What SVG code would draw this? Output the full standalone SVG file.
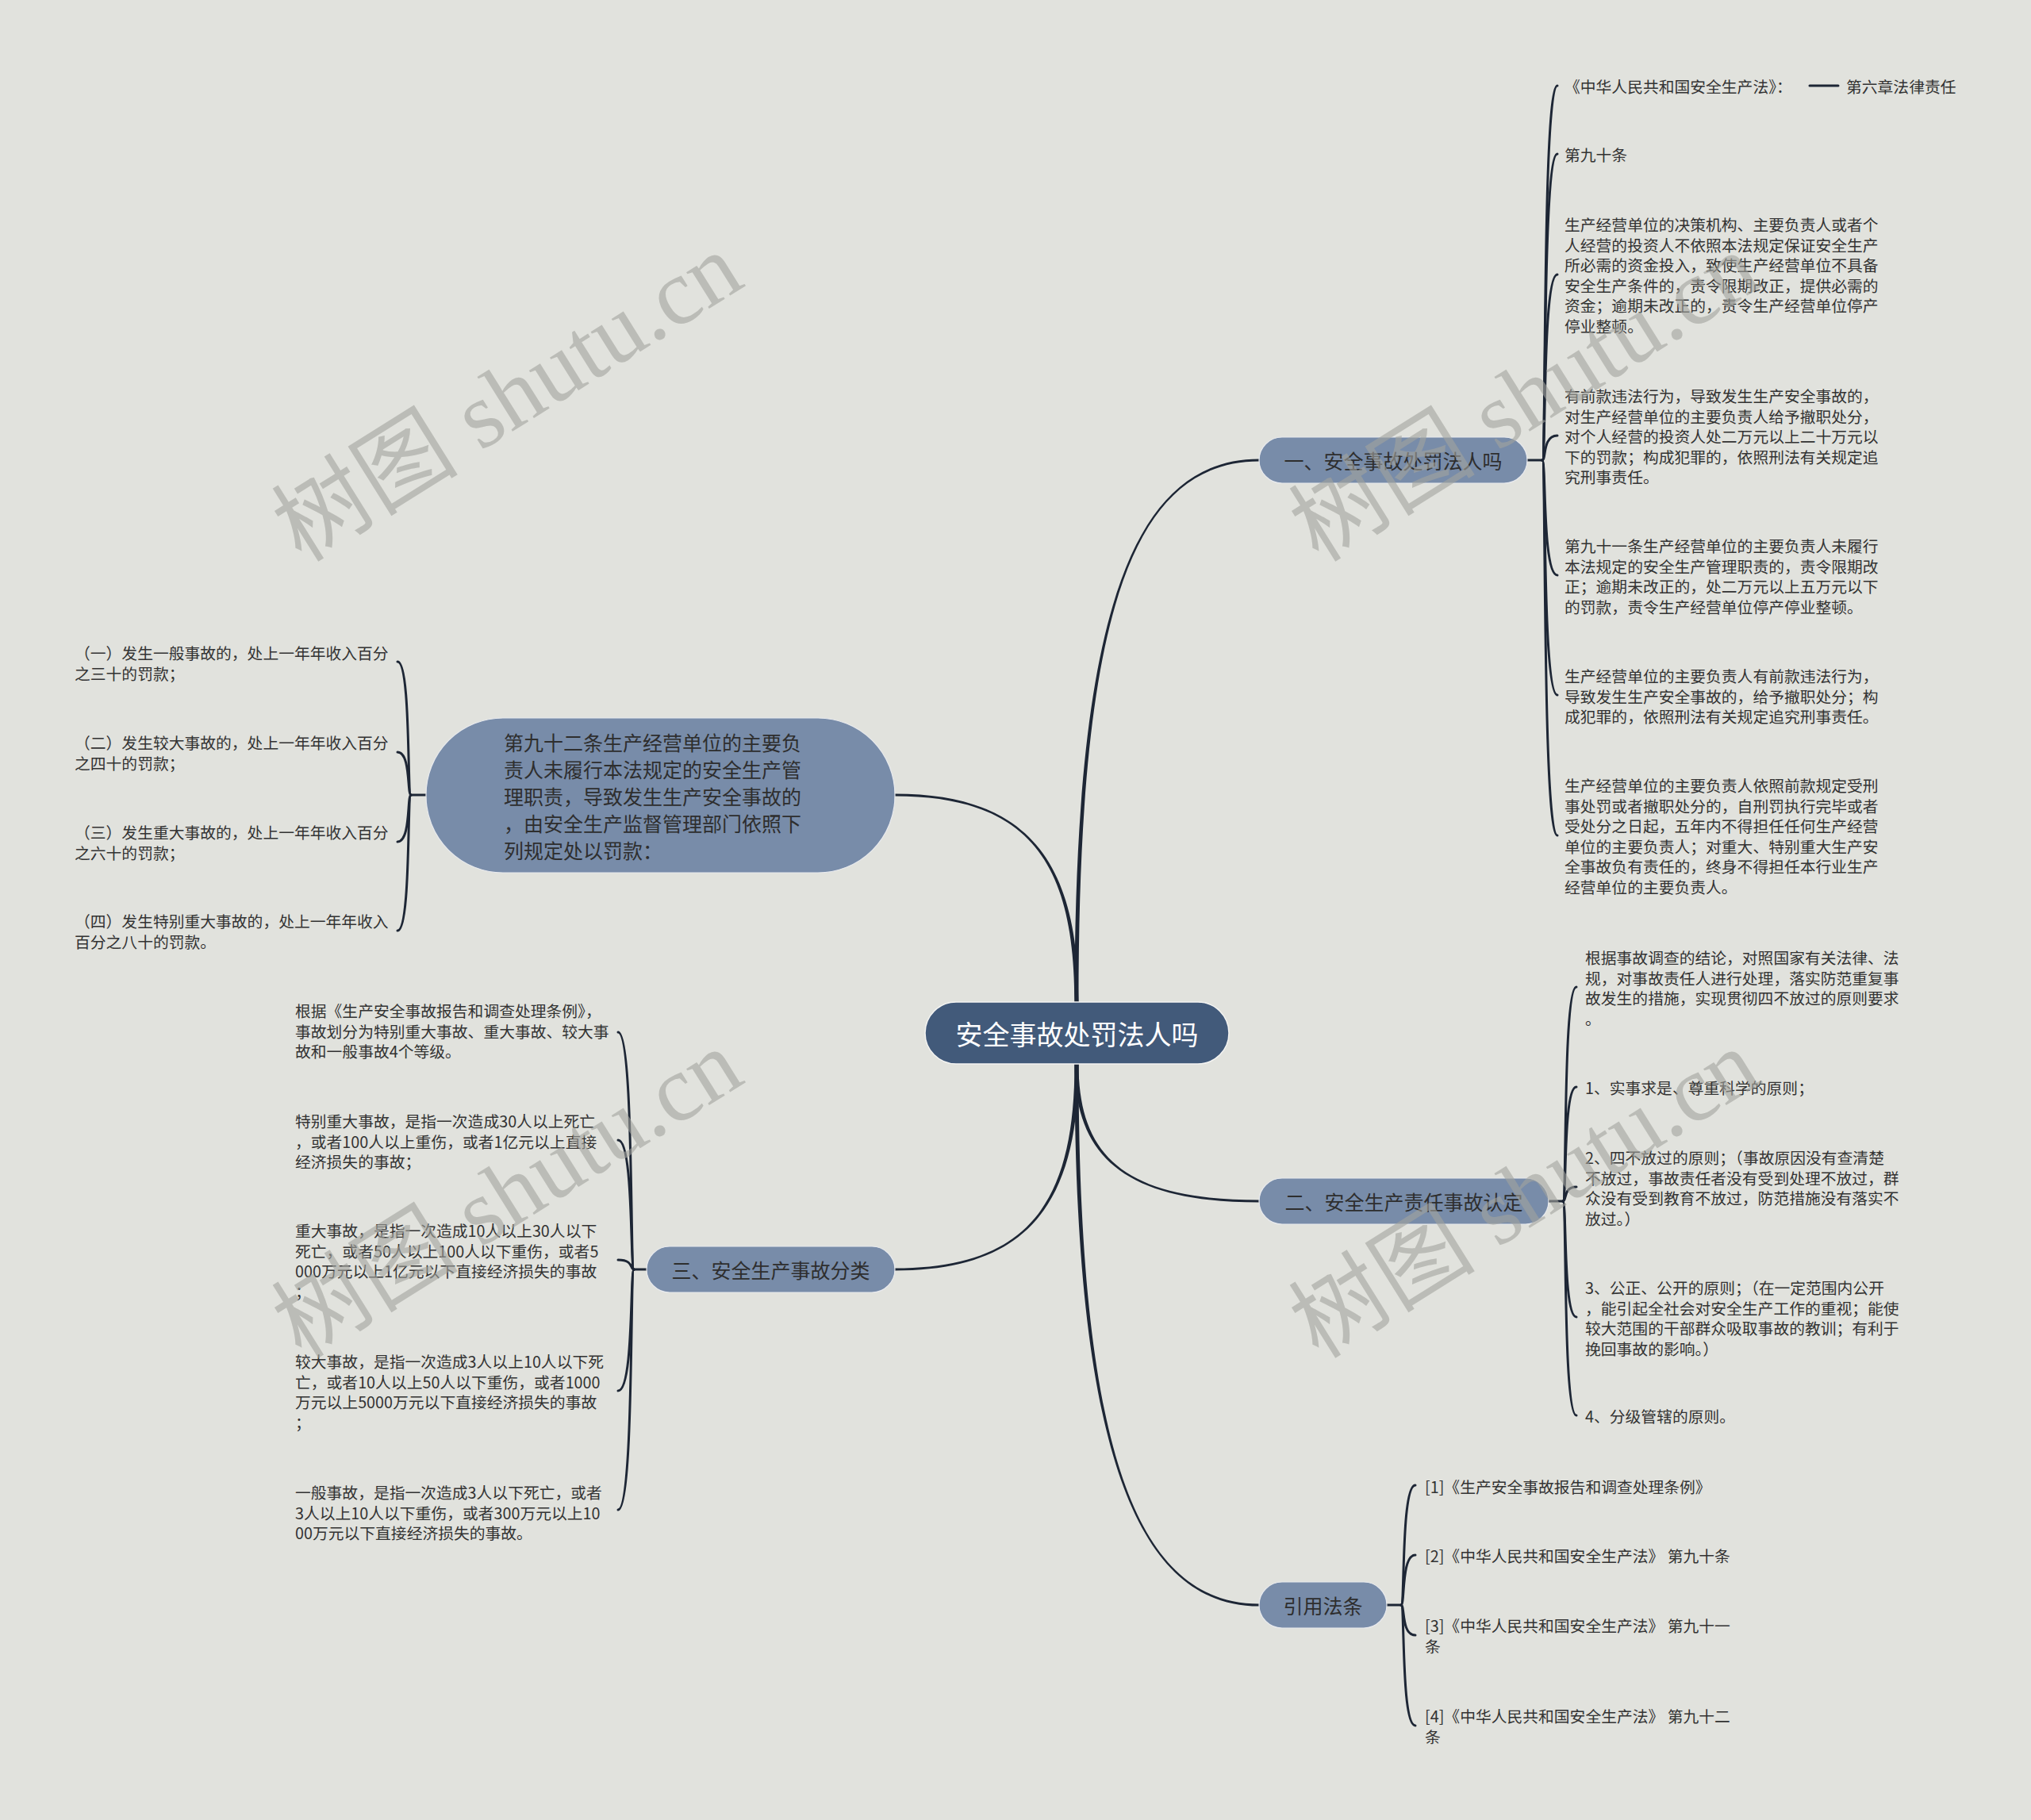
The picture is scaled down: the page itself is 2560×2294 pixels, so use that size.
<svg xmlns="http://www.w3.org/2000/svg" width="2560" height="2294" viewBox="0 0 2560 2294">
<style>
.bg{fill:#e1e2dd}
.root{fill:#425a7a;stroke:#f4f4f2;stroke-width:1.5}
.br{fill:#788ca9;stroke:#e8eaee;stroke-width:1.2}
.rt{font-family:"Noto Sans CJK SC","Noto Sans",sans-serif;font-size:34px;fill:#ffffff;text-anchor:middle;dominant-baseline:central}
.bt{font-family:"Noto Sans CJK SC","Noto Sans",sans-serif;font-size:25px;fill:#2e2e2e;text-anchor:middle;dominant-baseline:central}
.nt{font-family:"Noto Sans CJK SC","Noto Sans",sans-serif;font-size:25px;fill:#2e2e2e;dominant-baseline:central}
.t{font-family:"Noto Sans CJK SC","Noto Sans",sans-serif;font-size:19.8px;fill:#333333;dominant-baseline:central}
.ln{fill:none;stroke:#1d2635;stroke-width:3;stroke-linecap:round}
.tp{fill:#1d2635}
.wm{font-family:"Liberation Serif","Noto Sans CJK SC",serif;font-size:118px;fill:#a3a49e;opacity:0.6}
</style>
<rect class="bg" x="0" y="0" width="2560" height="2294"/>

<g id="connectors">
  <path class="tp" d="M1359.5,1263 C1359.5,799 1419,581.5 1587,581.5 L1587,578.5 C1419,578.5 1354.5,799 1354.5,1263 Z"/>
  <path class="tp" d="M1359.5,1263 C1359.5,1085.5 1295.2,1000.5 1128,1000.5 L1128,1003.5 C1295.2,1003.5 1354.5,1085.5 1354.5,1263 Z"/>
  <path class="tp" d="M1354.5,1341 C1354.5,1458.6 1419,1515.5 1587,1515.5 L1587,1512.5 C1419,1512.5 1359.5,1458.6 1359.5,1341 Z"/>
  <path class="tp" d="M1354.5,1341 C1354.5,1517.1 1295.2,1598.5 1128,1598.5 L1128,1601.5 C1295.2,1601.5 1359.5,1517.1 1359.5,1341 Z"/>
  <path class="tp" d="M1354.5,1341 C1354.5,1804.8 1425,2024.5 1587,2024.5 L1587,2021.5 C1425,2021.5 1359.5,1804.8 1359.5,1341 Z"/>

  <path class="ln" d="M1925,580 L1944,580"/>
  <path class="ln" d="M1944,580 C1949,580 1944,108 1963,108"/>
  <path class="ln" d="M1944,580 C1949,580 1944,194 1963,194"/>
  <path class="ln" d="M1944,580 C1949,580 1944,346 1963,346"/>
  <path class="ln" d="M1944,580 C1949,580 1944,549 1963,549"/>
  <path class="ln" d="M1944,580 C1949,580 1944,725 1963,725"/>
  <path class="ln" d="M1944,580 C1949,580 1944,876 1963,876"/>
  <path class="ln" d="M1944,580 C1949,580 1944,1053 1963,1053"/>
  <path class="ln" d="M2281,108 L2317,108"/>

  <path class="ln" d="M1952,1514 L1970,1514"/>
  <path class="ln" d="M1970,1514 C1975,1514 1970,1244 1987,1244"/>
  <path class="ln" d="M1970,1514 C1975,1514 1970,1370 1987,1370"/>
  <path class="ln" d="M1970,1514 C1975,1514 1970,1496 1987,1496"/>
  <path class="ln" d="M1970,1514 C1975,1514 1970,1660 1987,1660"/>
  <path class="ln" d="M1970,1514 C1975,1514 1970,1784 1987,1784"/>

  <path class="ln" d="M1748,2023 L1766,2023"/>
  <path class="ln" d="M1766,2023 C1771,2023 1766,1872 1784,1872"/>
  <path class="ln" d="M1766,2023 C1771,2023 1766,1960 1784,1960"/>
  <path class="ln" d="M1766,2023 C1771,2023 1766,2061 1784,2061"/>
  <path class="ln" d="M1766,2023 C1771,2023 1766,2175 1784,2175"/>

  <path class="ln" d="M815,1600 L799,1600"/>
  <path class="ln" d="M799,1600 C794,1600 799,1301 779,1301"/>
  <path class="ln" d="M799,1600 C794,1600 799,1437 779,1437"/>
  <path class="ln" d="M799,1600 C794,1600 799,1588 779,1588"/>
  <path class="ln" d="M799,1600 C794,1600 799,1753 779,1753"/>
  <path class="ln" d="M799,1600 C794,1600 799,1903 779,1903"/>

  <path class="ln" d="M537,1002 L518,1002"/>
  <path class="ln" d="M518,1002 C513,1002 518,834 501,834"/>
  <path class="ln" d="M518,1002 C513,1002 518,948 501,948"/>
  <path class="ln" d="M518,1002 C513,1002 518,1061 501,1061"/>
  <path class="ln" d="M518,1002 C513,1002 518,1173 501,1173"/>
</g>

<g id="root">
  <rect class="root" x="1166" y="1263" width="383" height="78" rx="39"/>
  <text class="rt" x="1357.5" y="1302">安全事故处罚法人吗</text>
</g>

<g id="b1">
  <rect class="br" x="1587" y="551" width="338" height="58" rx="29"/>
  <text class="bt" x="1756" y="580">一、安全事故处罚法人吗</text>
</g>
<g id="b1a"><text class="t" x="1972" y="108">《中华人民共和国安全生产法》：</text></g>
<g id="b1a1"><text class="t" x="2327" y="108">第六章法律责任</text></g>
<g id="b1b"><text class="t" x="1972" y="194">第九十条</text></g>
<g id="b1c"><text class="t">
  <tspan x="1972" y="282">生产经营单位的决策机构、主要负责人或者个</tspan>
  <tspan x="1972" y="307.5">人经营的投资人不依照本法规定保证安全生产</tspan>
  <tspan x="1972" y="333">所必需的资金投入，致使生产经营单位不具备</tspan>
  <tspan x="1972" y="358.5">安全生产条件的，责令限期改正，提供必需的</tspan>
  <tspan x="1972" y="384">资金；逾期未改正的，责令生产经营单位停产</tspan>
  <tspan x="1972" y="409.5">停业整顿。</tspan>
</text></g>
<g id="b1d"><text class="t">
  <tspan x="1972" y="498">有前款违法行为，导致发生生产安全事故的，</tspan>
  <tspan x="1972" y="523.5">对生产经营单位的主要负责人给予撤职处分，</tspan>
  <tspan x="1972" y="549">对个人经营的投资人处二万元以上二十万元以</tspan>
  <tspan x="1972" y="574.5">下的罚款；构成犯罪的，依照刑法有关规定追</tspan>
  <tspan x="1972" y="600">究刑事责任。</tspan>
</text></g>
<g id="b1e"><text class="t">
  <tspan x="1972" y="687">第九十一条生产经营单位的主要负责人未履行</tspan>
  <tspan x="1972" y="712.5">本法规定的安全生产管理职责的，责令限期改</tspan>
  <tspan x="1972" y="738">正；逾期未改正的，处二万元以上五万元以下</tspan>
  <tspan x="1972" y="763.5">的罚款，责令生产经营单位停产停业整顿。</tspan>
</text></g>
<g id="b1f"><text class="t">
  <tspan x="1972" y="851">生产经营单位的主要负责人有前款违法行为，</tspan>
  <tspan x="1972" y="876.5">导致发生生产安全事故的，给予撤职处分；构</tspan>
  <tspan x="1972" y="902">成犯罪的，依照刑法有关规定追究刑事责任。</tspan>
</text></g>
<g id="b1g"><text class="t">
  <tspan x="1972" y="989">生产经营单位的主要负责人依照前款规定受刑</tspan>
  <tspan x="1972" y="1014.5">事处罚或者撤职处分的，自刑罚执行完毕或者</tspan>
  <tspan x="1972" y="1040">受处分之日起，五年内不得担任任何生产经营</tspan>
  <tspan x="1972" y="1065.5">单位的主要负责人；对重大、特别重大生产安</tspan>
  <tspan x="1972" y="1091">全事故负有责任的，终身不得担任本行业生产</tspan>
  <tspan x="1972" y="1116.5">经营单位的主要负责人。</tspan>
</text></g>

<g id="b2">
  <rect class="br" x="1587" y="1485" width="365" height="58" rx="29"/>
  <text class="bt" x="1769.5" y="1514">二、安全生产责任事故认定</text>
</g>
<g id="b2a"><text class="t">
  <tspan x="1998" y="1206">根据事故调查的结论，对照国家有关法律、法</tspan>
  <tspan x="1998" y="1231.5">规，对事故责任人进行处理，落实防范重复事</tspan>
  <tspan x="1998" y="1257">故发生的措施，实现贯彻四不放过的原则要求</tspan>
  <tspan x="1998" y="1282.5">。</tspan>
</text></g>
<g id="b2b"><text class="t" x="1998" y="1370">1、实事求是、尊重科学的原则；</text></g>
<g id="b2c"><text class="t">
  <tspan x="1998" y="1458">2、四不放过的原则；（事故原因没有查清楚</tspan>
  <tspan x="1998" y="1483.5">不放过，事故责任者没有受到处理不放过，群</tspan>
  <tspan x="1998" y="1509">众没有受到教育不放过，防范措施没有落实不</tspan>
  <tspan x="1998" y="1534.5">放过。）</tspan>
</text></g>
<g id="b2d"><text class="t">
  <tspan x="1998" y="1622">3、公正、公开的原则；（在一定范围内公开</tspan>
  <tspan x="1998" y="1647.5">，能引起全社会对安全生产工作的重视；能使</tspan>
  <tspan x="1998" y="1673">较大范围的干部群众吸取事故的教训；有利于</tspan>
  <tspan x="1998" y="1698.5">挽回事故的影响。）</tspan>
</text></g>
<g id="b2e"><text class="t" x="1998" y="1784">4、分级管辖的原则。</text></g>

<g id="b4">
  <rect class="br" x="1587" y="1994" width="161" height="58" rx="29"/>
  <text class="bt" x="1667.5" y="2023">引用法条</text>
</g>
<g id="b4a"><text class="t" x="1796" y="1873">[1]《生产安全事故报告和调查处理条例》</text></g>
<g id="b4b"><text class="t" x="1796" y="1960">[2]《中华人民共和国安全生产法》 第九十条</text></g>
<g id="b4c"><text class="t">
  <tspan x="1796" y="2048">[3]《中华人民共和国安全生产法》 第九十一</tspan>
  <tspan x="1796" y="2074">条</tspan>
</text></g>
<g id="b4d"><text class="t">
  <tspan x="1796" y="2162">[4]《中华人民共和国安全生产法》 第九十二</tspan>
  <tspan x="1796" y="2188">条</tspan>
</text></g>

<g id="b3">
  <rect class="br" x="815" y="1571" width="313" height="58" rx="29"/>
  <text class="bt" x="971.5" y="1600">三、安全生产事故分类</text>
</g>
<g id="b3a"><text class="t">
  <tspan x="372" y="1273">根据《生产安全事故报告和调查处理条例》，</tspan>
  <tspan x="372" y="1298.5">事故划分为特别重大事故、重大事故、较大事</tspan>
  <tspan x="372" y="1324">故和一般事故4个等级。</tspan>
</text></g>
<g id="b3b"><text class="t">
  <tspan x="372" y="1412">特别重大事故，是指一次造成30人以上死亡</tspan>
  <tspan x="372" y="1437.5">，或者100人以上重伤，或者1亿元以上直接</tspan>
  <tspan x="372" y="1463">经济损失的事故；</tspan>
</text></g>
<g id="b3c"><text class="t">
  <tspan x="372" y="1550">重大事故，是指一次造成10人以上30人以下</tspan>
  <tspan x="372" y="1575.5">死亡，或者50人以上100人以下重伤，或者5</tspan>
  <tspan x="372" y="1601">000万元以上1亿元以下直接经济损失的事故</tspan>
  <tspan x="372" y="1626.5">；</tspan>
</text></g>
<g id="b3d"><text class="t">
  <tspan x="372" y="1715">较大事故，是指一次造成3人以上10人以下死</tspan>
  <tspan x="372" y="1740.5">亡，或者10人以上50人以下重伤，或者1000</tspan>
  <tspan x="372" y="1766">万元以上5000万元以下直接经济损失的事故</tspan>
  <tspan x="372" y="1791.5">；</tspan>
</text></g>
<g id="b3e"><text class="t">
  <tspan x="372" y="1880">一般事故，是指一次造成3人以下死亡，或者</tspan>
  <tspan x="372" y="1905.5">3人以上10人以下重伤，或者300万元以上10</tspan>
  <tspan x="372" y="1931">00万元以下直接经济损失的事故。</tspan>
</text></g>

<g id="b5">
  <rect class="br" x="537" y="905" width="591" height="195" rx="97"/>
  <text class="nt">
    <tspan x="635" y="935">第九十二条生产经营单位的主要负</tspan>
    <tspan x="635" y="969">责人未履行本法规定的安全生产管</tspan>
    <tspan x="635" y="1003">理职责，导致发生生产安全事故的</tspan>
    <tspan x="635" y="1037">，由安全生产监督管理部门依照下</tspan>
    <tspan x="635" y="1071">列规定处以罚款：</tspan>
  </text>
</g>
<g id="b5a"><text class="t">
  <tspan x="94" y="822">（一）发生一般事故的，处上一年年收入百分</tspan>
  <tspan x="94" y="847.5">之三十的罚款；</tspan>
</text></g>
<g id="b5b"><text class="t">
  <tspan x="94" y="935">（二）发生较大事故的，处上一年年收入百分</tspan>
  <tspan x="94" y="960.5">之四十的罚款；</tspan>
</text></g>
<g id="b5c"><text class="t">
  <tspan x="94" y="1048">（三）发生重大事故的，处上一年年收入百分</tspan>
  <tspan x="94" y="1073.5">之六十的罚款；</tspan>
</text></g>
<g id="b5d"><text class="t">
  <tspan x="94" y="1160">（四）发生特别重大事故的，处上一年年收入</tspan>
  <tspan x="94" y="1185.5">百分之八十的罚款。</tspan>
</text></g>

<g id="watermarks">
  <text class="wm" x="380" y="710" transform="rotate(-32 380 710)">树图 shutu.cn</text>
  <text class="wm" x="1662" y="710" transform="rotate(-32 1662 710)">树图 shutu.cn</text>
  <text class="wm" x="380" y="1714" transform="rotate(-32 380 1714)">树图 shutu.cn</text>
  <text class="wm" x="1662" y="1714" transform="rotate(-32 1662 1714)">树图 shutu.cn</text>
</g>
</svg>
